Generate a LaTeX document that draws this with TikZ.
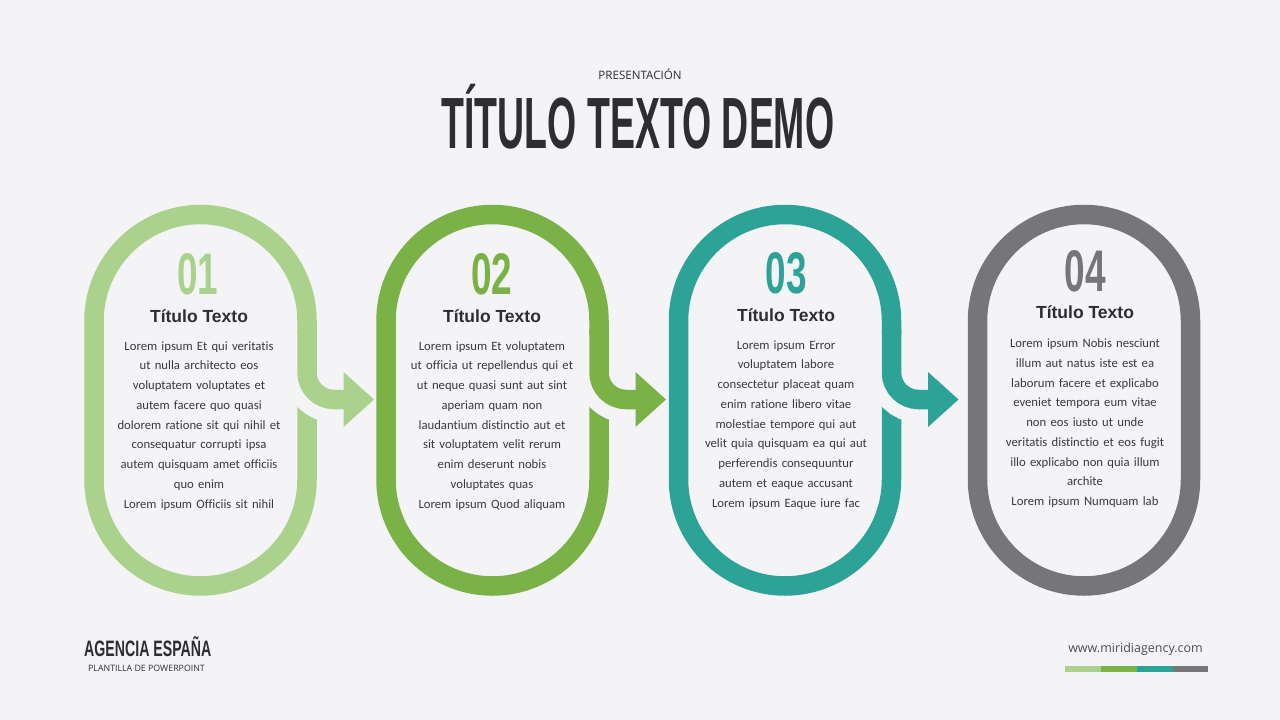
\documentclass[tikz,border=0pt]{standalone}
\usepackage{fontspec}
\usepackage{graphicx}
\setmainfont[Ligatures=NoCommon]{Carlito}
\newfontfamily\arialfont{Liberation Sans}
\newfontfamily\osfont{Open Sans}
\definecolor{bgc}{HTML}{F4F4F6}
\definecolor{cA}{HTML}{AAD28C}
\definecolor{cB}{HTML}{7AB248}
\definecolor{cC}{HTML}{2CA396}
\definecolor{cD}{HTML}{767578}
\definecolor{titc}{HTML}{2E2E31}
\definecolor{bodyc}{HTML}{3A3A3C}
\newcommand\ringpath[1]{(#1-106.5,321) arc(180:360:106.5) -- (#1+106.5,479.5) arc(0:180:106.5) -- cycle}
\newcommand\bignum[1]{\scalebox{0.63}[1]{\arialfont\bfseries\fontsize{58.7}{60}\selectfont #1}}
\tikzset{
  every node/.style={inner sep=0pt},
  ringline/.style={line width=19.5pt},
  gapline/.style={line width=46pt, draw=bgc},
  cardtitle/.style={anchor=base, font=\arialfont\bfseries\fontsize{17.5}{20}\selectfont, text=titc},
  cardbody/.style={anchor=base, text width=220pt, align=center, font=\fontsize{12.7}{19.75}\selectfont, text=bodyc},
}
\newcommand\turnarrow[2]{%
  \draw[gapline] (#1+106.5,335) -- (#1+106.5,372.5) arc(180:90:27) -- (#1+143.5,399.5);
  \draw[ringline, draw=#2] (#1+106.5,330) -- (#1+106.5,372.5) arc(180:90:27) -- (#1+143.5,399.5);
  \fill[#2] (#1+143,372) -- (#1+173.5,399.5) -- (#1+143,427) -- cycle;
}
\begin{document}
\begin{tikzpicture}[x=1pt,y=-1pt]
\fill[bgc] (0,0) rectangle (1280,720);
\useasboundingbox (0,0) rectangle (1280,720);

% header
\node[anchor=base, font=\osfont\fontsize{11.6}{13}\selectfont, text=titc] (pre) at (640,79) {PRESENTACIÓN};
\node[anchor=base, text=titc] (title) at (638,148) {\scalebox{0.516}[1]{\arialfont\bfseries\fontsize{72.6}{74}\selectfont TÍTULO TEXTO DEMO}};

% rings
\draw[ringline, cA] \ringpath{200.5};
\draw[ringline, cB] \ringpath{492.5};
\draw[ringline, cC] \ringpath{785};
\draw[ringline, cD] \ringpath{1084};

\turnarrow{200.5}{cA}
\turnarrow{492.5}{cB}
\turnarrow{785}{cC}

% card 1
\node[text=cA] (n1) at (198,274) {\bignum{01}};
\node[cardtitle] (t1) at (199,322) {Título Texto};
\node[cardbody] (b1) at (199,350) {Lorem ipsum Et qui veritatis\\ut nulla architecto eos\\voluptatem voluptates et\\autem facere quo quasi\\dolorem ratione sit qui nihil et\\consequatur corrupti ipsa\\autem quisquam amet officiis\\quo enim\\Lorem ipsum Officiis sit nihil};

% card 2
\node[text=cB] (n2) at (492,274.5) {\bignum{02}};
\node[cardtitle] (t2) at (492,322) {Título Texto};
\node[cardbody] (b2) at (492,350) {Lorem ipsum Et voluptatem\\ut officia ut repellendus qui et\\ut neque quasi sunt aut sint\\aperiam quam non\\laudantium distinctio aut et\\sit voluptatem velit rerum\\enim deserunt nobis\\voluptates quas\\Lorem ipsum Quod aliquam};

% card 3
\node[text=cC] (n3) at (786,273) {\bignum{03}};
\node[cardtitle] (t3) at (786,321) {Título Texto};
\node[cardbody] (b3) at (786,349) {Lorem ipsum Error\\voluptatem labore\\consectetur placeat quam\\enim ratione libero vitae\\molestiae tempore qui aut\\velit quia quisquam ea qui aut\\perferendis consequuntur\\autem et eaque accusant\\Lorem ipsum Eaque iure fac};

% card 4
\node[text=cD] (n4) at (1085,271) {\bignum{04}};
\node[cardtitle] (t4) at (1085,318.5) {Título Texto};
\node[cardbody] (b4) at (1085,347.7) {Lorem ipsum Nobis nesciunt\\illum aut natus iste est ea\\laborum facere et explicabo\\eveniet tempora eum vitae\\non eos iusto ut unde\\veritatis distinctio et eos fugit\\illo explicabo non quia illum\\archite\\Lorem ipsum Numquam lab};

% footer
\node[anchor=base west, text=titc] (agency) at (84,656) {\scalebox{0.635}[1]{\arialfont\bfseries\fontsize{22.3}{24}\selectfont AGENCIA ESPAÑA}};
\node[anchor=base west, font=\osfont\fontsize{8.8}{10}\selectfont, text=titc] (plant) at (88,671) {PLANTILLA DE POWERPOINT};
\node[anchor=base east, font=\osfont\fontsize{12.5}{14}\selectfont, text=titc!85] (web) at (1203,652) {www.miridiagency.com};
\fill[cA] (1065,666) rectangle (1101,671.5);
\fill[cB] (1101,666) rectangle (1137,671.5);
\fill[cC] (1137,666) rectangle (1172.5,671.5);
\fill[cD] (1172.5,666) rectangle (1208,671.5);
\end{tikzpicture}
\end{document}
